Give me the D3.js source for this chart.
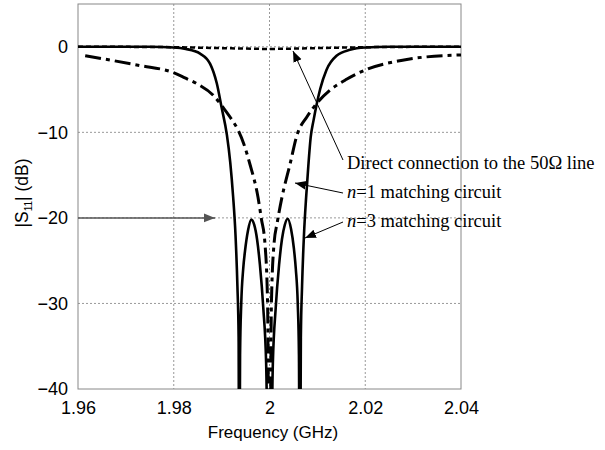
<!DOCTYPE html>
<html>
<head>
<meta charset="utf-8">
<script src="https://cdn.jsdelivr.net/npm/d3@7"></script>
<style>
  body { margin: 0; background: #fff; }
  svg { display: block; }
</style>
</head>
<body>
<script>
const width = 605;
const height = 450;

// data (GHz, dB); -60 stands for the deep nulls below the axis
const xTicks = [1.96, 1.98, 2.0, 2.02, 2.04];
const xTickLabels = ["1.96", "1.98", "2", "2.02", "2.04"];
const yTicks = [0, -10, -20, -30, -40];
const yTickLabels = ["0", "\u221210", "\u221220", "\u221230", "\u221240"];

const directFreq = [1.96, 1.975, 1.985, 1.992, 2.0, 2.008, 2.015, 2.025, 2.04];
const directDb   = [0, -0.02, -0.1, -0.18, -0.25, -0.18, -0.1, -0.02, 0];

const n1Freq = [1.9615, 1.9667, 1.973, 1.9798, 1.9822, 1.9848, 1.9883, 1.9903, 1.9921, 1.9935,
                1.9946, 1.9959, 1.9976, 1.9983, 1.99905, 1.9996, 2.0,
                2.0004, 2.00095, 2.0016, 2.0026, 2.0043, 2.0057, 2.0078, 2.0099, 2.0126,
                2.0161, 2.0205, 2.0275, 2.0389, 2.04];
const n1Db   = [-1.05, -1.55, -2.2, -3.0, -3.6, -4.3, -5.7, -7.1, -8.5, -9.8,
                -11.3, -13.7, -17.6, -20.1, -23, -30, -60,
                -30, -23, -20.6, -17.6, -13.7, -10.4, -8.2, -6.6, -5.1,
                -3.8, -2.6, -1.6, -0.97, -0.95];

const n3Freq = [1.96, 1.975, 1.98, 1.9825, 1.9855, 1.9876, 1.989, 1.99, 1.9911, 1.9918,
                1.9924, 1.9929, 1.9933, 1.99355, 1.99367,
                1.99385, 1.9941, 1.9945, 1.9949, 1.9955, 1.9962, 1.9968, 1.9974, 1.998, 1.9987, 1.9993, 2.0,
                2.0007, 2.0013, 2.002, 2.0026, 2.0032, 2.0038, 2.0045, 2.0051, 2.0055, 2.0059, 2.00615, 2.00635,
                2.00655, 2.0068, 2.0072, 2.00765, 2.0081, 2.0086, 2.0092, 2.0099, 2.0106, 2.0119, 2.014,
                2.0168, 2.02, 2.025, 2.04];
const n3Db   = [0, 0, -0.08, -0.25, -0.8, -2.0, -4.3, -7.1, -10.3, -13.5,
                -17.5, -22, -28, -34, -60,
                -36, -30, -26, -23.8, -21.5, -20.2, -20.8, -22.5, -25.5, -30.5, -37, -60,
                -37, -30.5, -25.5, -22.5, -20.8, -20.1, -21.3, -23.6, -26, -30, -36, -60,
                -34, -28, -22, -17.6, -14, -10.6, -8.6, -6.6, -4.9, -2.7, -1.05,
                -0.35, -0.08, 0, 0];

const sans = "'Liberation Sans', Arial, sans-serif";
const serif = "'Liberation Serif', 'Times New Roman', serif";

const svg = d3.select("body")
  .append("svg")
  .attr("width", width)
  .attr("height", height)
  .attr("xmlns", "http://www.w3.org/2000/svg");

const x = d3.scaleLinear().domain([1.96, 2.04]).range([78, 461]);
const y = d3.scaleLinear().domain([-40, 5]).range([389, 4]);

// arrow heads
const defs = svg.append("defs");
function marker(id, color) {
  defs.append("marker")
    .attr("id", id)
    .attr("viewBox", "0 0 10 10")
    .attr("refX", 10).attr("refY", 5)
    .attr("markerWidth", 11).attr("markerHeight", 11)
    .attr("markerUnits", "userSpaceOnUse")
    .attr("orient", "auto")
    .append("path")
    .attr("d", "M0,1 L10,5 L0,9 Z")
    .attr("fill", color);
}
marker("head", "#000");
marker("headGray", "#555");

defs.append("clipPath").attr("id", "plotClip")
  .append("rect")
  .attr("x", x(1.96)).attr("y", y(5))
  .attr("width", x(2.04) - x(1.96))
  .attr("height", y(-40) - y(5));

// grid
svg.append("g")
  .selectAll("line")
  .data(xTicks.slice(1, -1))
  .join("line")
  .attr("x1", d => x(d)).attr("x2", d => x(d))
  .attr("y1", y(5)).attr("y2", y(-40))
  .attr("stroke", "#999").attr("stroke-width", 1)
  .attr("stroke-dasharray", "2,2");

svg.append("g")
  .selectAll("line")
  .data(yTicks.slice(0, -1))
  .join("line")
  .attr("x1", x(1.96)).attr("x2", x(2.04))
  .attr("y1", d => y(d)).attr("y2", d => y(d))
  .attr("stroke", "#999").attr("stroke-width", 1)
  .attr("stroke-dasharray", "2,2");

// frame
svg.append("rect")
  .attr("x", x(1.96)).attr("y", y(5))
  .attr("width", x(2.04) - x(1.96))
  .attr("height", y(-40) - y(5))
  .attr("fill", "none")
  .attr("stroke", "#888").attr("stroke-width", 1);

// axes (labels only, frame drawn above)
const xAxis = svg.append("g")
  .attr("transform", `translate(0,${y(-40)})`)
  .call(d3.axisBottom(x).tickValues(xTicks).tickSize(0).tickPadding(12)
    .tickFormat((d, i) => xTickLabels[i]));
xAxis.select(".domain").remove();
xAxis.selectAll("text")
  .attr("font-family", sans).attr("font-size", 18).attr("fill", "#000");

const yAxis = svg.append("g")
  .attr("transform", `translate(${x(1.96)},0)`)
  .call(d3.axisLeft(y).tickValues(yTicks).tickSize(0).tickPadding(10)
    .tickFormat((d, i) => yTickLabels[i]));
yAxis.select(".domain").remove();
yAxis.selectAll("text")
  .attr("font-family", sans).attr("font-size", 18).attr("fill", "#000");

// axis titles
svg.append("text")
  .attr("x", 273).attr("y", 438)
  .attr("text-anchor", "middle")
  .attr("font-family", sans).attr("font-size", 17)
  .text("Frequency (GHz)");

const yTitle = svg.append("text")
  .attr("transform", "translate(28,193) rotate(-90)")
  .attr("text-anchor", "middle")
  .attr("font-family", sans).attr("font-size", 17.5);
yTitle.append("tspan").text("|S");
yTitle.append("tspan").attr("font-size", 10).attr("dy", 4).text("11");
yTitle.append("tspan").attr("dy", -4).text("| (dB)");

// curves
function series(freq, db) {
  return freq.map((f, i) => [f, db[i]]);
}
const line = d3.line()
  .x(d => x(d[0]))
  .y(d => y(d[1]))
  .curve(d3.curveMonotoneX);

const curves = svg.append("g").attr("clip-path", "url(#plotClip)");

curves.append("path")
  .datum(series(directFreq, directDb))
  .attr("d", line)
  .attr("fill", "none")
  .attr("stroke", "#000").attr("stroke-width", 2.5)
  .attr("stroke-dasharray", "5,3");

curves.append("path")
  .datum(series(n1Freq, n1Db))
  .attr("d", line)
  .attr("fill", "none")
  .attr("stroke", "#000").attr("stroke-width", 3)
  .attr("stroke-dasharray", "16,5,4,5");

curves.append("path")
  .datum(series(n3Freq, n3Db))
  .attr("d", line)
  .attr("fill", "none")
  .attr("stroke", "#000").attr("stroke-width", 2.6);

// annotations
const notes = [
  { text: "Direct connection to the 50\u03A9 line", italic: "", tx: 347, ty: 169, from: [343, 160], to: [293, 51] },
  { text: "=1 matching circuit", italic: "n", tx: 347, ty: 198, from: [343, 193], to: [295, 183] },
  { text: "=3 matching circuit", italic: "n", tx: 347, ty: 227, from: [343, 222], to: [305, 238] }
];

notes.forEach(n => {
  svg.append("line")
    .attr("x1", n.from[0]).attr("y1", n.from[1])
    .attr("x2", n.to[0]).attr("y2", n.to[1])
    .attr("stroke", "#000").attr("stroke-width", 1)
    .attr("marker-end", "url(#head)");
  const t = svg.append("text")
    .attr("x", n.tx).attr("y", n.ty)
    .attr("font-family", serif).attr("font-size", 18.5);
  if (n.italic) t.append("tspan").attr("font-style", "italic").text(n.italic);
  t.append("tspan").text(n.text);
});

// arrow marking the -20 dB level
svg.append("line")
  .attr("x1", x(1.96)).attr("y1", y(-20))
  .attr("x2", 215).attr("y2", y(-20))
  .attr("stroke", "#555").attr("stroke-width", 1.5)
  .attr("marker-end", "url(#headGray)");
</script>
</body>
</html>
